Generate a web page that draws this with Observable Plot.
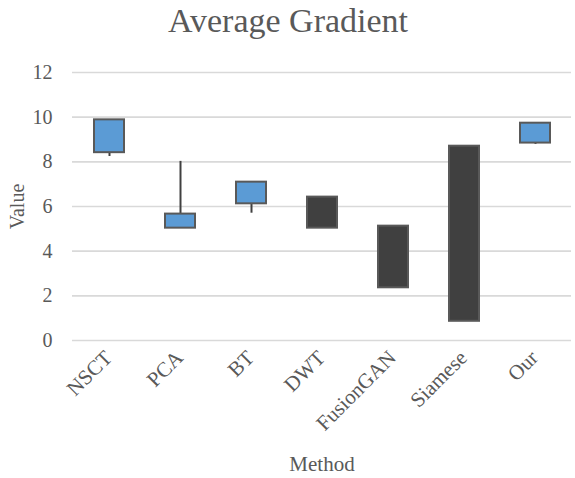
<!DOCTYPE html>
<html>
<head>
<meta charset="utf-8">
<script src="https://cdn.jsdelivr.net/npm/d3@7"></script>
<script src="https://cdn.jsdelivr.net/npm/@observablehq/plot@0.6"></script>
<style>
  html, body { margin: 0; padding: 0; background: #fff; }
  #chart svg { display: block; }
  #chart svg text { font-family: "Liberation Serif", "Times New Roman", serif; }
</style>
</head>
<body>
<div id="chart"></div>
<script>
const methods = ["NSCT", "PCA", "BT", "DWT", "FusionGAN", "Siamese", "Our"];
const openVals  = [8.41, 5.03, 6.12, 6.42, 5.12, 8.70, 8.84];
const closeVals = [9.88, 5.66, 7.09, 5.03, 2.36, 0.86, 9.73];
const highVals  = [9.88, 8.02, 7.09, 6.42, 5.12, 8.70, 9.73];
const lowVals   = [8.24, 5.03, 5.70, 5.03, 2.36, 0.86, 8.78];
const yTicks = [0, 2, 4, 6, 8, 10, 12];
const title = "Average Gradient";

const data = methods.map((m, i) => ({
  method: m,
  open: openVals[i],
  close: closeVals[i],
  high: highVals[i],
  low: lowVals[i],
  up: closeVals[i] >= openVals[i]
}));

const font = "'Liberation Serif', 'Times New Roman', serif";
const textColor = "#595959";

const chart = Plot.plot({
  width: 575,
  height: 478,
  marginTop: 72,
  marginBottom: 138,
  marginLeft: 72,
  marginRight: 4,
  style: { fontFamily: font, background: "#fff" },
  x: { domain: methods, paddingInner: 0.58, paddingOuter: 0.29 },
  y: { domain: [0, 12] },
  marks: [
    Plot.gridY(yTicks, { stroke: "#d9d9d9", strokeOpacity: 1, strokeWidth: 1.6 }),
    Plot.axisY(yTicks, {
      tickSize: 0, tickPadding: 20, fontSize: 20, fill: textColor, fontFamily: font,
      label: "Value", labelAnchor: "center", labelArrow: "none", labelOffset: 63
    }),
    Plot.axisX({
      tickSize: 0, tickRotate: -45, fontSize: 21, fill: textColor, fontFamily: font,
      dx: -1, dy: 2,
      label: "Method", labelAnchor: "center", labelArrow: "none", labelOffset: 130
    }),
    Plot.ruleX(data, { x: "method", y1: "low", y2: "high", stroke: "#404040", strokeWidth: 2 }),
    Plot.barY(data.filter(d => d.up), {
      x: "method", y1: "open", y2: "close",
      fill: "#5B9BD5", stroke: "#595959", strokeWidth: 2
    }),
    Plot.barY(data.filter(d => !d.up), {
      x: "method", y1: "open", y2: "close",
      fill: "#404040", stroke: "#595959", strokeWidth: 2
    }),
    Plot.text([title], {
      frameAnchor: "top", dx: -34, dy: -41, lineAnchor: "bottom",
      fontSize: 34, fill: textColor, fontFamily: font
    })
  ]
});

document.getElementById("chart").appendChild(chart);
</script>
</body>
</html>
